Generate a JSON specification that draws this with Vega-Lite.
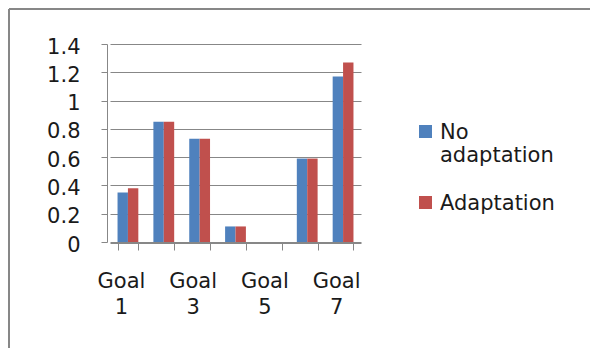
{
  "$schema": "https://vega.github.io/schema/vega-lite/v6.json",
  "width": 581,
  "height": 339,
  "autosize": {"type": "none"},
  "padding": {"left": 9, "top": 9, "right": 0, "bottom": 0},
  "background": "white",
  "config": {
    "view": {"stroke": "#878787", "strokeWidth": 2, "strokeDash": [581, 920, 339, 0]},
    "font": "DejaVu Sans",
    "axis": {
      "labelFont": "DejaVu Sans",
      "labelFontSize": 21,
      "labelColor": "#1a1a1a",
      "domainColor": "#878787",
      "tickColor": "#878787",
      "gridColor": "#878787",
      "gridOpacity": 1,
      "title": null
    }
  },
  "data": {
    "values": [
      {"goal": "Goal 1", "series": "No adaptation", "value": 0.35},
      {"goal": "Goal 1", "series": "Adaptation", "value": 0.38},
      {"goal": "Goal 2", "series": "No adaptation", "value": 0.85},
      {"goal": "Goal 2", "series": "Adaptation", "value": 0.85},
      {"goal": "Goal 3", "series": "No adaptation", "value": 0.73},
      {"goal": "Goal 3", "series": "Adaptation", "value": 0.73},
      {"goal": "Goal 4", "series": "No adaptation", "value": 0.11},
      {"goal": "Goal 4", "series": "Adaptation", "value": 0.11},
      {"goal": "Goal 5", "series": "No adaptation", "value": 0},
      {"goal": "Goal 5", "series": "Adaptation", "value": 0},
      {"goal": "Goal 6", "series": "No adaptation", "value": 0.59},
      {"goal": "Goal 6", "series": "Adaptation", "value": 0.59},
      {"goal": "Goal 7", "series": "No adaptation", "value": 1.17},
      {"goal": "Goal 7", "series": "Adaptation", "value": 1.27}
    ]
  },
  "mark": {"type": "bar"},
  "encoding": {
    "x": {
      "field": "goal",
      "type": "nominal",
      "sort": ["Goal 1", "Goal 2", "Goal 3", "Goal 4", "Goal 5", "Goal 6", "Goal 7"],
      "scale": {"range": [101, 352], "paddingInner": 0.42, "paddingOuter": 0.21},
      "axis": {
        "title": null,
        "orient": "bottom",
        "offset": -105,
        "tickSize": 7,
        "tickBand": "extent",
        "labelPadding": 20,
        "labelAngle": 0,
        "labelLineHeight": 26,
        "labelBaseline": "top",
        "labelOffset": -7,
        "grid": false,
        "labelExpr": "indexof(['Goal 2','Goal 4','Goal 6'], datum.label) >= 0 ? '' : split(datum.label, ' ')"
      }
    },
    "xOffset": {
      "field": "series",
      "sort": ["No adaptation", "Adaptation"],
      "scale": {"paddingInner": 0}
    },
    "y": {
      "field": "value",
      "type": "quantitative",
      "scale": {"domain": [0, 1.4], "range": [233, 35], "nice": false, "zero": true},
      "axis": {
        "title": null,
        "offset": -98,
        "tickSize": 6,
        "labelPadding": 21,
        "labelOffset": 3,
        "values": [0, 0.2, 0.4, 0.6, 0.8, 1, 1.2, 1.4],
        "format": "~g",
        "grid": true
      }
    },
    "color": {
      "field": "series",
      "type": "nominal",
      "sort": ["No adaptation", "Adaptation"],
      "scale": {"domain": ["No adaptation", "Adaptation"], "range": ["#4F81BD", "#C0504D"]},
      "legend": {
        "title": null,
        "orient": "none",
        "legendX": 406,
        "legendY": 119,
        "padding": 0,
        "labelFont": "DejaVu Sans",
        "labelFontSize": 21,
        "labelColor": "#1a1a1a",
        "labelBaseline": "alphabetic",
        "labelOffset": 4,
        "labelLimit": 300,
        "symbolType": "M-1,-2.08H1V-0.08H-1Z",
        "symbolSize": 169,
        "symbolStrokeWidth": 0,
        "rowPadding": 26,
        "labelExpr": "datum.label == 'No adaptation' ? ['No', 'adaptation'] : datum.label"
      }
    }
  }
}
